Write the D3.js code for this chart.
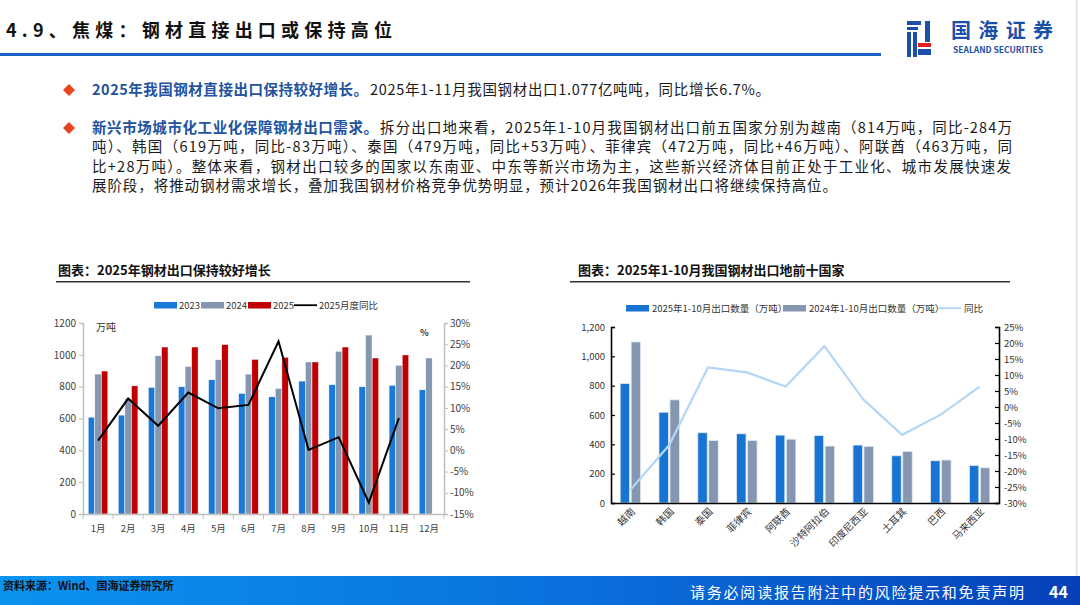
<!DOCTYPE html>
<html><head><meta charset="utf-8">
<script src="https://cdn.jsdelivr.net/npm/d3@7"></script>
<style>
html,body{margin:0;padding:0;background:#fff;}
svg{display:block;}
text{font-family:"Noto Sans CJK SC","Noto Sans",sans-serif;}
</style></head>
<body>
<svg id="c" width="1080" height="605"></svg>
<script>
// ---------- data ----------
const months = ["1月","2月","3月","4月","5月","6月","7月","8月","9月","10月","11月","12月"];
const exp2023 = [608,621,795,799,843,757,736,835,812,799,808,780];
const exp2024 = [879,724,994,927,969,879,789,955,1022,1124,934,980];
const exp2025 = [898,805,1049,1049,1064,971,984,955,1049,980,999];
const yoy2025 = [2.3,12.2,5.8,13.6,9.9,10.7,25.7,0.1,3.1,-12.3,7.6];
const leftTicks = [0,200,400,600,800,1000,1200];
const leftPctTicks = [-15,-10,-5,0,5,10,15,20,25,30];

const countries = ["越南","韩国","泰国","菲律宾","阿联酋","沙特阿拉伯","印度尼西亚","土耳其","巴西","马来西亚"];
const qty2025 = [814,619,479,472,463,460,395,322,288,256];
const qty2024 = [1098,703,426,426,435,388,386,352,293,240];
const yoyCountry = [-25.9,-11.9,12.4,10.8,6.4,19.0,2.4,-8.7,-2.4,6.4];
const qtyTicks = [0,200,400,600,800,1000,1200];
const pctTicks = [-30,-25,-20,-15,-10,-5,0,5,10,15,20,25];

const svg = d3.select("#c");

// ---------- header ----------
svg.append("text").attr("x",6).attr("y",37).attr("font-size",18).attr("font-weight","bold")
  .attr("fill","#111").attr("textLength",386).attr("lengthAdjust","spacing")
  .text("4.9、焦煤：钢材直接出口或保持高位");
svg.append("rect").attr("x",0).attr("y",53).attr("width",881).attr("height",3).attr("fill","#1a62c8");
// logo icon
const lg = svg.append("g");
const B="#1b4fa8", R="#e02020";
[[907,21,14,4],[907,27,11,3],[907,32,4,25],[913,32,4,25],[925,21,5,21],[918,49,13,6]].forEach(r=>lg.append("rect").attr("x",r[0]).attr("y",r[1]).attr("width",r[2]).attr("height",r[3]).attr("fill",B));
lg.append("rect").attr("x",918).attr("y",43).attr("width",13).attr("height",4).attr("fill",R);
svg.append("text").attr("x",951).attr("y",38).attr("font-size",20).attr("font-weight","bold").attr("fill",B)
  .attr("textLength",102).attr("lengthAdjust","spacing").text("国海证券");
svg.append("text").attr("x",953).attr("y",53).attr("font-size",8.5).attr("font-weight","bold").attr("fill",B)
  .attr("textLength",90).attr("lengthAdjust","spacingAndGlyphs").text("SEALAND SECURITIES");
svg.append("rect").attr("x",1076).attr("y",0).attr("width",1.5).attr("height",576).attr("fill","#e2e2e2");

// ---------- bullets ----------
function diamond(cx,cy){svg.append("path").attr("d",`M${cx},${cy-6}L${cx+6},${cy}L${cx},${cy+6}L${cx-6},${cy}Z`).attr("fill","#e8451e");}
diamond(69,90); diamond(69,128);
const blue="#23529f", body="#1a1a1a";
function txt(s,x,y,len,bold){
  const t=svg.append("text").attr("x",x).attr("y",y).attr("font-size",14.5).attr("fill",bold?blue:body)
    .attr("font-weight",bold?"bold":"normal").text(s);
  if(len) t.attr("textLength",len).attr("lengthAdjust","spacing");
  return t;
}
txt("2025年我国钢材直接出口保持较好增长。",92,95,276,true);
txt("2025年1-11月我国钢材出口1.077亿吨吨，同比增长6.7%。",370,95,400,false);
txt("新兴市场城市化工业化保障钢材出口需求。",92,133,286,true);
txt("拆分出口地来看，2025年1-10月我国钢材出口前五国家分别为越南（814万吨，同比-284万",380,133,632,false);
txt("吨）、韩国（619万吨，同比-83万吨）、泰国（479万吨，同比+53万吨）、菲律宾（472万吨，同比+46万吨）、阿联酋（463万吨，同",92,152,920,false);
txt("比+28万吨）。整体来看，钢材出口较多的国家以东南亚、中东等新兴市场为主，这些新兴经济体目前正处于工业化、城市发展快速发",92,172,919,false);
txt("展阶段，将推动钢材需求增长，叠加我国钢材价格竞争优势明显，预计2026年我国钢材出口将继续保持高位。",92,191,745,false);

// ---------- chart titles ----------
svg.append("text").attr("x",58).attr("y",275).attr("font-size",13).attr("font-weight","bold").attr("fill","#111").text("图表：2025年钢材出口保持较好增长");
svg.append("rect").attr("x",56).attr("y",281).attr("width",414).attr("height",1.5).attr("fill","#333");
svg.append("text").attr("x",578).attr("y",275).attr("font-size",13).attr("font-weight","bold").attr("fill","#111").text("图表：2025年1-10月我国钢材出口地前十国家");
svg.append("rect").attr("x",570).attr("y",281).attr("width",440).attr("height",1.5).attr("fill","#333");

// ---------- left chart ----------
const cBlue="#1a78d8", cGray="#8497b0", cRed="#c00000";
const xL = d3.scaleBand().domain(months).range([83,444]);
const xLs = d3.scaleBand().domain(["2023","2024","2025"]).range([0,xL.bandwidth()]).paddingInner(0.03).paddingOuter(0.8);
const yL = d3.scaleLinear().domain([0,1200]).range([514,323]);
const yLp = d3.scaleLinear().domain([-15,30]).range([514,323]);
const gL = svg.append("g");
const seriesL = [["2023",exp2023,cBlue],["2024",exp2024,cGray],["2025",exp2025,cRed]];
seriesL.forEach(([k,vals,col])=>{
  gL.selectAll(null).data(vals).enter().append("rect")
    .attr("x",(d,i)=>xL(months[i])+xLs(k)).attr("y",d=>yL(d))
    .attr("width",xLs.bandwidth()).attr("height",d=>yL(0)-yL(d))
    .attr("fill",col).attr("stroke","#fff").attr("stroke-width",0.4);
});
const lineL = d3.line().x((d,i)=>xL(months[i])+xL.bandwidth()/2).y(d=>yLp(d));
gL.append("path").attr("d",lineL(yoy2025)).attr("fill","none").attr("stroke","#000").attr("stroke-width",2);

const axL = gL.append("g").attr("transform","translate(83,0)").call(d3.axisLeft(yL).tickValues(leftTicks).tickSize(4).tickPadding(3).tickFormat(d3.format("d")));
const axLr = gL.append("g").attr("transform","translate(444,0)").call(d3.axisRight(yLp).tickValues(leftPctTicks).tickSize(4).tickPadding(2).tickFormat(d=>d+"%"));
const axLb = gL.append("g").attr("transform","translate(0,514)").call(d3.axisBottom(xL).tickSize(0).tickPadding(11));
[axL,axLr,axLb].forEach(a=>{
  a.select(".domain").attr("stroke","#bfbfbf").attr("stroke-width",1.5);
  a.selectAll(".tick line").attr("stroke","#bfbfbf");
  a.selectAll("text").attr("font-size",10).attr("fill","#404040").attr("font-family","Liberation Sans, Arial, sans-serif");
});
axLb.selectAll("text").attr("font-family","Noto Sans CJK SC, sans-serif").attr("font-size",9.5);
gL.selectAll(null).data(months.concat(["end"])).enter().append("line")
  .attr("x1",(d,i)=>i<months.length?xL(d):xL.range()[1]).attr("x2",(d,i)=>i<months.length?xL(d):xL.range()[1])
  .attr("y1",514).attr("y2",519).attr("stroke","#bfbfbf");
gL.append("text").attr("x",96).attr("y",331).attr("font-size",10).attr("fill","#333").attr("font-family","Liberation Serif, serif").text("万吨");
gL.append("text").attr("x",420).attr("y",336).attr("font-size",9).attr("font-weight","bold").attr("fill","#333").text("%");
// legend
const legL = [[154,"rect",cBlue,"2023"],[201,"rect",cGray,"2024"],[248,"rect",cRed,"2025"],[294,"line","#000","2025月度同比"]];
legL.forEach(([x,t,c,l])=>{
  if(t==="rect") gL.append("rect").attr("x",x).attr("y",302).attr("width",23).attr("height",6.5).attr("fill",c);
  else gL.append("rect").attr("x",x).attr("y",304.3).attr("width",23).attr("height",1.8).attr("fill",c);
  gL.append("text").attr("x",x+25).attr("y",308.5).attr("font-size",9.5).attr("fill","#333").attr("font-family","'Liberation Serif','Noto Sans CJK SC',serif").text(l);
});

// ---------- right chart ----------
const rBlue="#1874d2", rGray="#8496b0", rLine="#b3d6f6";
const xC = d3.scaleBand().domain(countries).range([611,999]);
const xCs = d3.scaleBand().domain(["2025","2024"]).range([0,xC.bandwidth()]).paddingInner(0.14).paddingOuter(0.835);
const yQ = d3.scaleLinear().domain([0,1200]).range([503,327]);
const yP = d3.scaleLinear().domain([-30,25]).range([503,327]);
const gR = svg.append("g");
[["2025",qty2025,rBlue],["2024",qty2024,rGray]].forEach(([k,vals,col])=>{
  gR.selectAll(null).data(vals).enter().append("rect")
    .attr("x",(d,i)=>xC(countries[i])+xCs(k)).attr("y",d=>yQ(d))
    .attr("width",xCs.bandwidth()).attr("height",d=>yQ(0)-yQ(d))
    .attr("fill",col).attr("stroke","#dfe8f3").attr("stroke-width",0.8);
});
const lineR = d3.line().x((d,i)=>xC(countries[i])+xC.bandwidth()/2).y(d=>yP(d));
gR.append("path").attr("d",lineR(yoyCountry)).attr("fill","none").attr("stroke",rLine).attr("stroke-width",2.2);

const axR1 = gR.append("g").attr("transform","translate(611,0)").call(d3.axisLeft(yQ).tickValues(qtyTicks).tickSize(-4).tickPadding(6).tickFormat(d3.format(",")));
const axR2 = gR.append("g").attr("transform","translate(999,0)").call(d3.axisRight(yP).tickValues(pctTicks).tickSize(-4).tickPadding(5).tickFormat(d=>d+"%"));
const axR3 = gR.append("g").attr("transform","translate(0,503)").call(d3.axisBottom(xC).tickSize(0).tickPadding(4));
[axR1,axR2,axR3].forEach(a=>{
  a.select(".domain").attr("stroke","#000").attr("stroke-width",1.6);
  a.selectAll(".tick line").attr("stroke","#000").attr("stroke-width",1.2);
  a.selectAll("text").attr("font-size",9.5).attr("fill","#333").attr("font-family","Liberation Sans, Arial, sans-serif");
});
axR3.selectAll(".tick text").attr("font-family","Noto Sans CJK SC, sans-serif").attr("font-size",10)
  .attr("text-anchor","end").attr("dy","0.35em").attr("transform","translate(0,4) rotate(-45)");
// legend
const legR = [[626,"rect",rBlue,"2025年1-10月出口数量（万吨）"],[783,"rect",rGray,"2024年1-10月出口数量（万吨）"],[938,"line",rLine,"同比"]];
legR.forEach(([x,t,c,l])=>{
  if(t==="rect") gR.append("rect").attr("x",x).attr("y",305).attr("width",23).attr("height",6.5).attr("fill",c);
  else gR.append("rect").attr("x",x).attr("y",307.2).attr("width",23).attr("height",2).attr("fill",c);
  gR.append("text").attr("x",x+26).attr("y",311.5).attr("font-size",9.5).attr("fill","#333").text(l);
});

// ---------- footer ----------
const defs = svg.append("defs");
const grad = defs.append("linearGradient").attr("id","fg").attr("x1","0").attr("x2","1").attr("y1","0").attr("y2","0");
grad.append("stop").attr("offset","0").attr("stop-color","#0a93ef");
grad.append("stop").attr("offset","0.55").attr("stop-color","#0a6fdc");
grad.append("stop").attr("offset","1").attr("stop-color","#0640b8");
svg.append("rect").attr("x",0).attr("y",576).attr("width",1080).attr("height",29).attr("fill","url(#fg)");
svg.append("text").attr("x",3).attr("y",590).attr("font-size",11).attr("font-weight","bold").attr("fill","#111").text("资料来源：Wind、国海证券研究所");
svg.append("text").attr("x",690).attr("y",598).attr("font-size",15).attr("fill","#fff").attr("textLength",334).attr("lengthAdjust","spacing").text("请务必阅读报告附注中的风险提示和免责声明");
svg.append("text").attr("x",1049).attr("y",598).attr("font-size",16).attr("font-weight","bold").attr("fill","#fff").attr("font-family","Liberation Sans, Arial, sans-serif").text("44");
</script>
</body></html>
